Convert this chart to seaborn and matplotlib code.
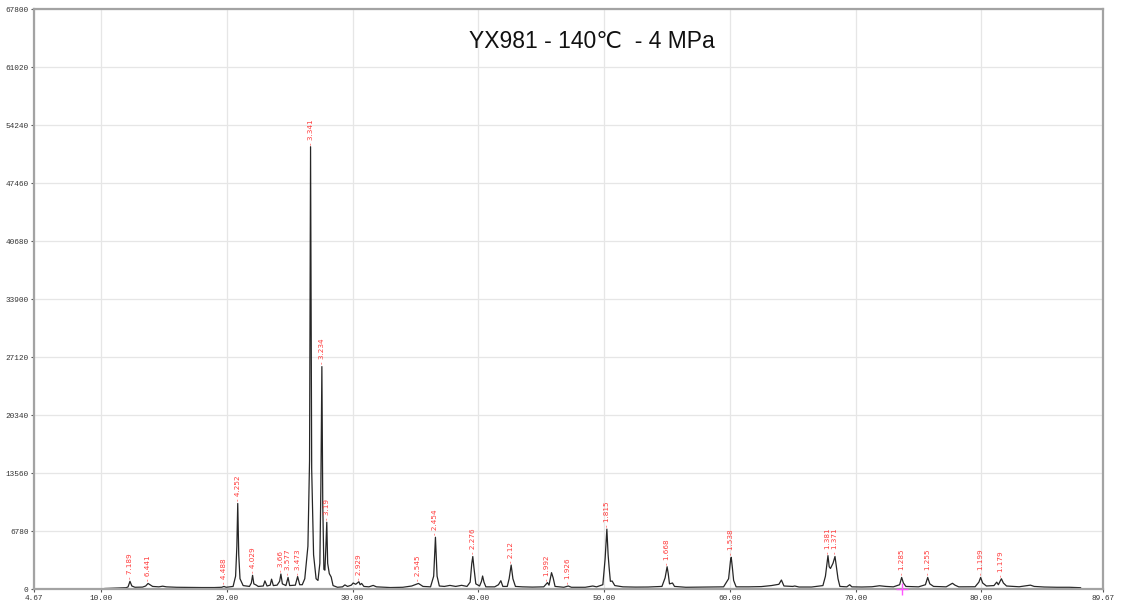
import matplotlib
matplotlib.use("Agg")
import matplotlib.pyplot as plt
import seaborn as sns
import pandas as pd

# Powder XRD trace: 2-theta (deg) and intensity (counts) at the breakpoints of the scan
trace_2theta = [
    10.0, 10.3, 11.5, 12.0, 12.15, 12.30, 12.45, 12.7, 13.3, 13.55, 13.74, 13.9, 14.1,
    14.6, 14.9, 15.2, 16.0, 17.0, 18.0, 19.0, 19.6, 19.77, 19.95, 20.5, 20.7, 20.80,
    20.87, 20.95, 21.05, 21.3, 21.8, 21.95, 22.05, 22.15, 22.35, 22.5, 22.9, 23.03,
    23.2, 23.45, 23.56, 23.7, 24.0, 24.2, 24.30, 24.42, 24.7, 24.87, 25.0, 25.45,
    25.63, 25.8, 26.0, 26.2, 26.45, 26.58, 26.66, 26.75, 26.9, 27.1, 27.25, 27.4,
    27.48, 27.56, 27.63, 27.72, 27.8, 27.88, 27.95, 28.02, 28.15, 28.3, 28.45, 28.8,
    29.2, 29.39, 29.6, 29.9, 30.05, 30.25, 30.50, 30.6, 30.72, 30.9, 31.3, 31.64,
    31.9, 32.5, 33.0, 34.0, 34.7, 35.24, 35.6, 36.2, 36.45, 36.59, 36.72, 36.9, 37.3,
    37.74, 38.2, 38.67, 39.1, 39.35, 39.48, 39.56, 39.65, 39.8, 40.1, 40.25, 40.34,
    40.45, 40.6, 41.3, 41.6, 41.79, 41.95, 42.3, 42.45, 42.61, 42.75, 42.95, 43.5,
    44.3, 45.2, 45.50, 45.62, 45.82, 45.95, 46.1, 46.8, 47.15, 47.4, 48.5, 49.1,
    49.4, 49.9, 50.08, 50.22, 50.32, 50.4, 50.5, 50.64, 50.85, 51.5, 52.5, 53.5,
    54.6, 54.85, 55.01, 55.1, 55.2, 55.44, 55.6, 56.5, 58.0, 59.5, 59.9, 60.05,
    60.11, 60.2, 60.3, 60.5, 61.5, 62.5, 63.3, 63.9, 64.1, 64.3, 65.0, 65.16, 65.5,
    66.5, 67.4, 67.6, 67.80, 67.9, 68.0, 68.2, 68.36, 68.45, 68.6, 68.75, 69.3,
    69.53, 69.7, 70.5, 71.3, 71.9, 72.4, 73.0, 73.5, 73.66, 73.8, 74.0, 75.0, 75.55,
    75.73, 75.9, 76.2, 77.2, 77.7, 77.9, 78.2, 79.5, 79.8, 79.94, 80.1, 80.4, 81.0,
    81.22, 81.35, 81.59, 81.75, 82.0, 83.0, 83.9, 84.2, 85.0, 86.0, 87.0, 87.9,
]
trace_counts = [
    0, 60, 120, 150, 250, 900, 350, 200, 220, 350, 650, 500, 300,
    250, 330, 250, 200, 180, 170, 170, 200, 300, 200, 300, 1500, 5000,
    10000, 4000, 1200, 400, 300, 700, 1600, 600, 450, 300, 350, 950,
    350, 450, 1150, 400, 450, 900, 1750, 600, 400, 1350, 400, 450,
    1450, 500, 500, 1200, 5000, 15000, 51700, 14000, 4000, 1200, 1000, 3000,
    12000, 26000, 10000, 2300, 2200, 5000, 7800, 3000, 1800, 1400, 400, 200,
    250, 480, 300, 450, 700, 550, 850, 500, 650, 300, 250, 420,
    250, 200, 170, 200, 350, 650, 300, 250, 1500, 6050, 1500, 350, 300,
    420, 300, 430, 300, 800, 3000, 3800, 2500, 600, 350, 900, 1520,
    800, 250, 250, 500, 970, 300, 300, 1200, 2800, 1200, 300, 250,
    220, 250, 750, 450, 1910, 1300, 300, 200, 350, 200, 200, 350,
    250, 500, 3500, 7000, 4000, 2500, 900, 930, 400, 250, 220, 230,
    300, 1300, 2600, 1800, 600, 700, 300, 200, 230, 250, 1200, 3300,
    3700, 2500, 1000, 250, 250, 280, 400, 550, 1050, 350, 300, 350, 230,
    230, 400, 1500, 3900, 2600, 2400, 3000, 3800, 2800, 1200, 300, 250,
    500, 250, 230, 260, 380, 300, 250, 500, 1350, 700, 300, 250, 500,
    1350, 600, 300, 250, 670, 450, 250, 260, 800, 1350, 700, 350, 400,
    800, 500, 1200, 700, 350, 260, 450, 300, 230, 200, 200, 150,
]

# Indexed reflections: d-spacing (angstrom) with peak position and peak intensity
peak_d = ["7.189", "6.441", "4.488", "4.252", "4.029", "3.66", "3.577", "3.473",
          "3.341", "3.234", "3.19", "2.929", "2.545", "2.454", "2.276", "2.12",
          "1.992", "1.926", "1.815", "1.668", "1.538", "1.381", "1.371", "1.285",
          "1.255", "1.199", "1.179"]
peak_2theta = [12.30, 13.74, 19.77, 20.87, 22.05, 24.30, 24.87, 25.63,
               26.66, 27.56, 27.95, 30.50, 35.24, 36.59, 39.56, 42.61,
               45.50, 47.15, 50.22, 55.01, 60.11, 67.80, 68.36, 73.66,
               75.73, 79.94, 81.59]
peak_counts = [900, 650, 300, 10000, 1600, 1750, 1350, 1450,
               51700, 26000, 7800, 850, 650, 6050, 3800, 2800,
               750, 350, 7000, 2600, 3700, 3900, 3800, 1350,
               1350, 1350, 1200]

x_ticks = [4.67, 10, 20, 30, 40, 50, 60, 70, 80, 89.67]
y_ticks = [0, 6780, 13560, 20340, 27120, 33900, 40680, 47460, 54240, 61020, 67800]
cursor_2theta, cursor_counts = 73.72, 0

title = "YX981 - 140\u2103  - 4 MPa"

sns.set_theme(style="white")
plt.rcParams["font.family"] = ["DejaVu Sans"]

fig = plt.figure(figsize=(11.21, 6.07), dpi=100)
ax = fig.add_axes([34 / 1121, 18 / 607, (1103 - 34) / 1121, (598 - 18) / 607])

trace = pd.DataFrame({"two_theta": trace_2theta, "counts": trace_counts})
sns.lineplot(data=trace, x="two_theta", y="counts", ax=ax, estimator=None,
             sort=False, color="#262626", linewidth=0.9)

ax.set_xlim(x_ticks[0], x_ticks[-1])
ax.set_ylim(y_ticks[0], y_ticks[-1])
ax.set_xticks(x_ticks)
ax.set_xticklabels([f"{t:.2f}" for t in x_ticks])
ax.set_yticks(y_ticks)
ax.set_yticklabels([str(t) for t in y_ticks])
ax.set_xlabel("")
ax.set_ylabel("")

ax.grid(True, color="#e6e6e6", linewidth=0.9)
ax.set_axisbelow(True)
for side in ax.spines.values():
    side.set_color("#a3a3a3")
    side.set_linewidth(1.6)

ax.tick_params(axis="both", which="major", length=2.5, width=0.8, color="#555555",
               labelsize=5.6, labelcolor="#333333", pad=1.5, left=True, bottom=True)
for lab in ax.get_xticklabels() + ax.get_yticklabels():
    lab.set_family(["Liberation Mono", "DejaVu Sans Mono"])

# d-spacing annotations above each reflection
for d, tt, c in zip(peak_d, peak_2theta, peak_counts):
    ax.annotate(f"- {d}", xy=(tt, c), xytext=(0, 1.5), textcoords="offset points",
                rotation=90, ha="center", va="bottom", fontsize=5.2,
                color="#ff3b3b", family=["DejaVu Sans"])

# cursor marker
ax.plot([cursor_2theta], [cursor_counts], marker="+", color="#ff55ff",
        markersize=8, markeredgewidth=1.0, clip_on=False, zorder=5)

fig.text(592 / 1121, 1 - 41 / 607, title, ha="center", va="center", fontsize=16.5,
         color="#111111", family=["Liberation Sans", "DejaVu Sans"])

fig.savefig("out.png", dpi=100, facecolor="white")
